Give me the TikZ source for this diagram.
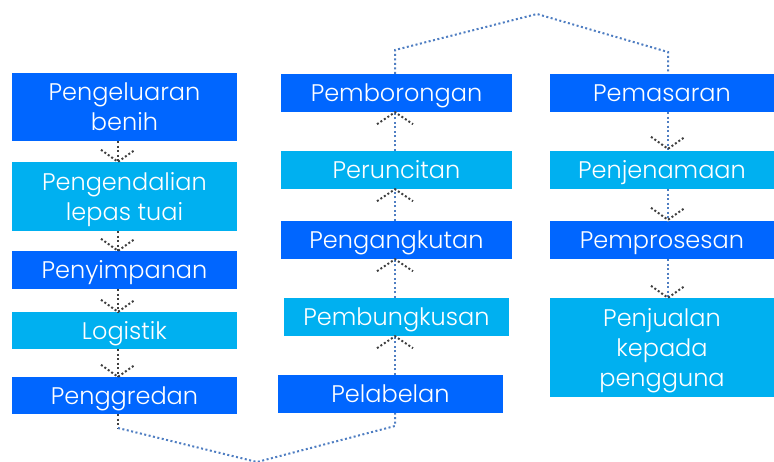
\documentclass[tikz,border=0pt]{standalone}
\usepackage{fontspec}
\setmainfont{Poppins}[UprightFont=* Light]
\usetikzlibrary{calc}
\definecolor{darkbox}{RGB}{0,102,255}
\definecolor{lightbox}{RGB}{0,176,240}
\definecolor{dotblue}{RGB}{79,126,194}
\definecolor{dotgray}{RGB}{64,64,64}
\begin{document}
\begin{tikzpicture}[x=1pt,y=-1pt,
  boxbase/.style={inner sep=0pt, align=center, text=white,
    font=\fontsize{24}{30}\selectfont},
  darkb/.style={boxbase, fill=darkbox},
  lightb/.style={boxbase, fill=lightbox},
  oneline/.style={text height=17pt, text depth=0pt},
  multiline/.style={text depth=0pt},
  grayline/.style={draw=dotgray, line width=2pt, dash pattern=on 2pt off 2.5pt},
  blueline/.style={draw=dotblue, line width=2pt, dash pattern=on 2pt off 2.5pt},
  headline/.style={draw=dotgray, line width=2pt, dash pattern=on 2pt off 2.2pt},
  dhead/.pic={\draw[headline] (-17,-12) -- (0,0) -- (17,-12);},
  uhead/.pic={\draw[headline] (-18,12) -- (0,0) -- (18,12);}]
\useasboundingbox (0,0) rectangle (774,461);
% left column
\node[darkb, multiline, minimum width=225pt, minimum height=68pt] (n1) at (124.5,107) {Pengeluaran\\benih};
\node[lightb, multiline, minimum width=225pt, minimum height=69pt] (n2) at (124.5,196.5) {Pengendalian\\lepas tuai};
\node[darkb, oneline, minimum width=225pt, minimum height=38pt] (n3) at (124.5,270) {Penyimpanan};
\node[lightb, oneline, minimum width=225pt, minimum height=37pt] (n4) at (124.5,330.5) {Logistik};
\node[darkb, oneline, minimum width=225pt, minimum height=37pt] (n5) at (124.5,395.5) {Penggredan};
% middle column
\node[darkb, oneline, minimum width=231pt, minimum height=38pt] (m1) at (396.5,93) {Pemborongan};
\node[lightb, oneline, minimum width=231pt, minimum height=38pt] (m2) at (396.5,170) {Peruncitan};
\node[darkb, oneline, minimum width=231pt, minimum height=38pt] (m3) at (396.5,240) {Pengangkutan};
\node[lightb, oneline, minimum width=225pt, minimum height=38pt] (m4) at (396.5,317) {Pembungkusan};
\node[darkb, oneline, minimum width=225pt, minimum height=38pt] (m5) at (390.5,394) {Pelabelan};
% right column
\node[darkb, oneline, minimum width=224pt, minimum height=38pt] (r1) at (662,93) {Pemasaran};
\node[lightb, oneline, minimum width=224pt, minimum height=38pt] (r2) at (662,170) {Penjenamaan};
\node[darkb, oneline, minimum width=224pt, minimum height=38pt] (r3) at (662,240) {Pemprosesan};
\node[lightb, multiline, minimum width=224pt, minimum height=99pt] (r4) at (662,347.5) {Penjualan\\kepada\\pengguna};
% line x positions
\coordinate (Lx) at (118,0);
\coordinate (Mx) at (395,0);
\coordinate (Rx) at (668,0);
\coordinate (top1) at (395,50);
\coordinate (peak) at (537,14);
\coordinate (top2) at (668,52);
\coordinate (bot1) at (118,428);
\coordinate (valley) at (257,462);
\coordinate (bot2) at (395,426);
% left column connectors
\draw[grayline] (Lx |- n1.south) -- (Lx |- n2.north);
\draw[grayline] (Lx |- n2.south) -- (Lx |- n3.north);
\draw[grayline] (Lx |- n3.south) -- (Lx |- n4.north);
\draw[grayline] (Lx |- n4.south) -- (Lx |- n5.north);
\pic at (Lx |- n2.north) {dhead};
\pic at (Lx |- n3.north) {dhead};
\pic at (Lx |- n4.north) {dhead};
\pic at (Lx |- n5.north) {dhead};
% middle column connectors
\draw[blueline] (Mx |- m5.north) -- (Mx |- m4.south);
\draw[blueline] (Mx |- m4.north) -- (Mx |- m3.south);
\draw[blueline] (Mx |- m3.north) -- (Mx |- m2.south);
\draw[blueline] (Mx |- m2.north) -- (Mx |- m1.south);
\pic at (Mx |- m4.south) {uhead};
\pic at (Mx |- m3.south) {uhead};
\pic at (Mx |- m2.south) {uhead};
\pic at (Mx |- m1.south) {uhead};
% right column connectors
\draw[blueline] (Rx |- r1.south) -- (Rx |- r2.north);
\draw[blueline] (Rx |- r2.south) -- (Rx |- r3.north);
\draw[blueline] (Rx |- r3.south) -- (Rx |- r4.north);
\pic at ($(Rx |- r2.north)+(0,-2)$) {dhead};
\pic at ($(Rx |- r3.north)+(0,-1)$) {dhead};
\pic at (Rx |- r4.north) {dhead};
% long connectors
\draw[blueline] (Mx |- m1.north) -- (top1) -- (peak) -- (top2) -- (Rx |- r1.north);
\draw[grayline] (Lx |- n5.south) -- (bot1);
\draw[blueline] (bot1) -- (valley) -- (bot2) -- (Mx |- m5.south);
\end{tikzpicture}
\end{document}
